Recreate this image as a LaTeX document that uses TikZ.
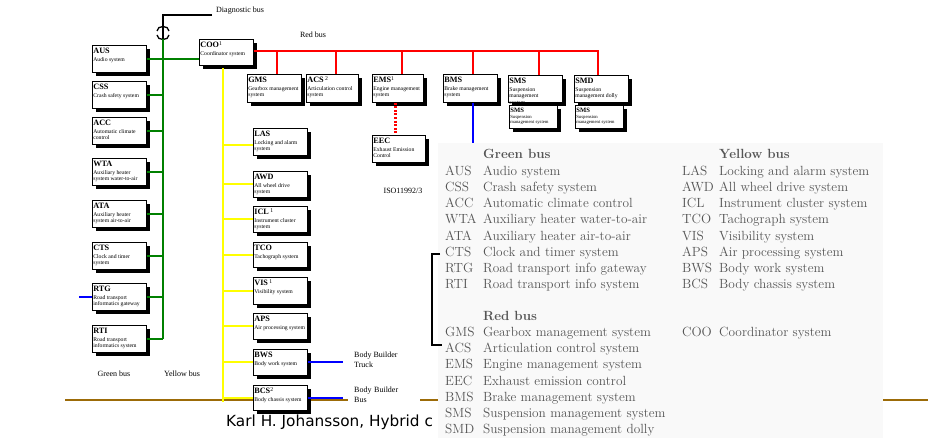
\documentclass[tikz,border=0pt]{standalone}
\usepackage{fontspec}
\newfontfamily\timesf{Liberation Serif}
\newfontfamily\footf{DejaVu Sans}
\usetikzlibrary{shadows}

\definecolor{busgreen}{RGB}{0,128,0}
\definecolor{busyellow}{RGB}{255,255,0}
\definecolor{busred}{RGB}{255,0,0}
\definecolor{busblue}{RGB}{0,0,255}
\definecolor{rulebrown}{RGB}{156,107,8}
\definecolor{legendgray}{RGB}{85,85,85}
\definecolor{panelbg}{RGB}{249,249,249}

% content of one control unit box: width, height, abbreviation, description
\newcommand\ecu[4]{\parbox[c][#2][t]{#1}{\raggedright\timesf
  \fontsize{8.2}{8.2}\selectfont\rule{0pt}{7.5pt}\textbf{#3}\par
  \vspace{0.8pt}\fontsize{5.7}{6.6}\selectfont #4}}
% smaller variant for the stacked suspension units
\newcommand\subecu[4]{\parbox[c][#2][t]{#1}{\raggedright\timesf
  \fontsize{6.6}{6.6}\selectfont\rule{0pt}{6pt}\textbf{#3}\par
  \vspace{0.4pt}\fontsize{4.7}{5.6}\selectfont #4}}
\newcommand\supr[1]{\textsuperscript{\mdseries #1}}

\tikzset{
  ecubox/.style={draw=black, line width=0.7pt, fill=white, inner sep=1pt,
    anchor=north west,
    general shadow={fill=black, shadow xshift=3.5pt, shadow yshift=-3.5pt}},
  greenbus/.style={draw=busgreen, line width=2pt},
  yellowbus/.style={draw=busyellow, line width=2pt},
  redbus/.style={draw=busred, line width=2pt},
  reddash/.style={draw=busred, line width=3pt, dash pattern=on 2pt off 1.6pt},
  bluebus/.style={draw=busblue, line width=1.8pt},
  diagline/.style={draw=black, line width=1.3pt},
  lbl/.style={font=\timesf\fontsize{8}{9.5}\selectfont, inner sep=0pt},
  legend/.style={font=\fontsize{13.3}{16}\selectfont, text=legendgray,
    inner sep=0pt, anchor=base west},
  legendhead/.style={legend, font=\fontsize{13.3}{16}\selectfont\bfseries},
}

\begin{document}
\begin{tikzpicture}[x=1pt,y=-1pt]
\useasboundingbox[fill=white] (0,0) rectangle (928,438);

% slide rule at the bottom
\coordinate (rulel) at (65,400);
\coordinate (ruler) at (928,400);
\draw[draw=rulebrown, line width=2.6pt] (rulel) -- (ruler);

% ---------------- control units ----------------
% green bus units
\node[ecubox] (aus) at (92,45)  {\ecu{52pt}{25pt}{AUS}{Audio system}};
\node[ecubox] (css) at (92,81)  {\ecu{52pt}{25pt}{CSS}{Crash safety system}};
\node[ecubox] (acc) at (92,117) {\ecu{52pt}{25pt}{ACC}{Automatic climate\\control}};
\node[ecubox] (wta) at (92,158) {\ecu{52pt}{25pt}{WTA}{Auxiliary heater\\system water-to-air}};
\node[ecubox] (ata) at (92,200) {\ecu{52pt}{25pt}{ATA}{Auxiliary heater\\system air-to-air}};
\node[ecubox] (cts) at (92,242) {\ecu{52pt}{25pt}{CTS}{Clock and timer\\system}};
\node[ecubox] (rtg) at (92,283) {\ecu{52pt}{25pt}{RTG}{Road transport\\informatics gateway}};
\node[ecubox] (rti) at (92,325) {\ecu{52pt}{25pt}{RTI}{Road transport\\informatics system}};

% coordinator
\node[ecubox] (coo) at (199,39) {\ecu{52pt}{24pt}{COO\supr{1}}{Coordinator system}};

% yellow bus units
\node[ecubox] (las) at (253,128) {\ecu{52pt}{25pt}{LAS}{Locking and alarm\\system}};
\node[ecubox] (awd) at (253,171) {\ecu{52pt}{24pt}{AWD}{All wheel drive\\system}};
\node[ecubox] (icl) at (253,206) {\ecu{52pt}{24pt}{ICL\,\supr{1}}{Instrument cluster\\system}};
\node[ecubox] (tco) at (253,242) {\ecu{52pt}{23pt}{TCO}{Tachograph system}};
\node[ecubox] (vis) at (253,277) {\ecu{52pt}{25pt}{VIS\,\supr{1}}{Visibility system}};
\node[ecubox] (aps) at (253,313) {\ecu{52pt}{24pt}{APS}{Air processing system}};
\node[ecubox] (bws) at (253,349) {\ecu{52pt}{24pt}{BWS}{Body work system}};
\node[ecubox] (bcs) at (253,385) {\ecu{52pt}{23pt}{BCS\supr{2}}{Body chassis system}};

% red bus units
\node[ecubox] (gms) at (247,74) {\ecu{52pt}{26pt}{GMS}{Gearbox management\\system}};
\node[ecubox] (acs) at (306,74) {\ecu{50pt}{26pt}{ACS\,\supr{2}}{Articulation control\\system}};
\node[ecubox] (ems) at (372,74) {\ecu{49pt}{26pt}{EMS\supr{1}}{Engine management\\system}};
\node[ecubox] (bms) at (443,74) {\ecu{52pt}{26pt}{BMS}{Brake management\\system}};
\node[ecubox] (sms) at (508,75) {\ecu{52pt}{25pt}{SMS}{Suspension\\management\\system}};
\node[ecubox] (smd) at (574,75) {\ecu{52pt}{25pt}{SMD}{Suspension\\management dolly}};
\node[ecubox] (smsa) at (509,105) {\subecu{46pt}{21pt}{SMS}{Suspension\\management system}};
\node[ecubox] (smsb) at (575,105) {\subecu{46pt}{21pt}{SMS}{Suspension\\management system}};
\node[ecubox] (eec) at (372,135) {\ecu{51pt}{25pt}{EEC}{Exhaust Emission\\Control}};

% ---------------- buses ----------------
% diagnostic bus and connector symbol
\coordinate (dgend) at (212,15);
\coordinate (hop) at (163,33);
\coordinate (gtop) at (163,39);
\draw[diagline] (dgend) -| (gtop);
\draw[diagline] ([shift={(-6,-2)}]hop) .. controls ([shift={(-6,-8)}]hop) and ([shift={(6,-8)}]hop) .. ([shift={(6,-2)}]hop);
\draw[diagline] ([shift={(-6,2)}]hop) .. controls ([shift={(-6,8)}]hop) and ([shift={(6,8)}]hop) .. ([shift={(6,2)}]hop);

% green bus
\draw[greenbus] (gtop) -- (gtop |- rti.east);
\draw[greenbus] (aus.east) -- (coo.west |- aus.east);
\foreach \u in {css,acc,wta,ata,cts,rtg,rti}
  \draw[greenbus] (\u.east) -- (\u.east -| gtop);

% yellow bus
\coordinate (ytop) at (223,68);
\coordinate (ybot) at (223,402);
\draw[yellowbus] (ytop) -- (ybot);
\draw[yellowbus] ([yshift=-3pt]las.west -| ytop) -- ([yshift=-3pt]las.west);
\foreach \u in {awd,icl,tco,vis,aps,bws,bcs}
  \draw[yellowbus] (\u.west -| ytop) -- (\u.west);

% red bus, ending in the drop to SMD
\coordinate (rend) at (598,51);
\draw[redbus] (coo.east |- rend) -- (rend) -- (rend |- smd.north);
\foreach \u/\x in {gms/277,acs/336,ems/402,bms/473,sms/539}
  \draw[redbus] (\x,51) -- (\x,51 |- \u.north);
\draw[reddash] ([xshift=-2pt]ems.south) -- ([xshift=-2pt]ems.south |- eec.north);

% blue links
\coordinate (bmsout) at (473,150);
\draw[bluebus] (bmsout |- bms.south) -- (bmsout);
\coordinate (rtgin) at (79,0);
\draw[bluebus] (rtgin |- rtg.west) -- (rtg.west);
\coordinate (bbout) at (343,0);
\draw[bluebus] (bws.east) -- (bws.east -| bbout);
\draw[bluebus] (bcs.east) -- (bcs.east -| bbout);

% ---------------- labels ----------------
\node[lbl, anchor=west] (ldiag) at (216,11) {Diagnostic bus};
\node[lbl] (lred) at (313,35) {Red bus};
\node[lbl] (liso) at (403,191) {ISO11992/3};
\node[lbl] (lgreen) at (114,374) {Green bus};
\node[lbl] (lyellow) at (182,374) {Yellow bus};
\node[lbl, anchor=north west, align=left, inner xsep=6pt, inner ysep=2pt,
  fill=white] (ltruck) at (348,350) {Body Builder\\Truck};
\node[lbl, anchor=north west, align=left, inner xsep=6pt, inner ysep=2pt,
  fill=white, text width=60pt] (lbus) at (348,385) {Body Builder\\Bus};

% footer
\node[anchor=base west, inner sep=0pt, font=\footf\fontsize{15.3}{18}\selectfont]
  (footer) at (226,426) {Karl H. Johansson, Hybrid c};

% ---------------- legend panel ----------------
\fill[panelbg] (438,143) rectangle (883,438);

\node[legendhead] (hgreen) at (483,158.5) {Green bus};
\node[legendhead] (hyellow) at (719,158.5) {Yellow bus};
\node[legendhead] (hred) at (483,320.5) {Red bus};

\foreach \ab/\txt [count=\i from 0] in {AUS/Audio system, CSS/Crash safety system,
    ACC/Automatic climate control, WTA/Auxiliary heater water-to-air,
    ATA/Auxiliary heater air-to-air, CTS/Clock and timer system,
    RTG/Road transport info gateway, RTI/Road transport info system} {
  \node[legend] (ga\i) at (445,175.5+16.15*\i) {\ab};
  \node[legend] (gd\i) at (483,175.5+16.15*\i) {\txt};
}
\foreach \ab/\txt [count=\i from 0] in {LAS/Locking and alarm system,
    AWD/All wheel drive system, ICL/Instrument cluster system,
    TCO/Tachograph system, VIS/Visibility system, APS/Air processing system,
    BWS/Body work system, BCS/Body chassis system} {
  \node[legend] (ya\i) at (682,175.5+16.15*\i) {\ab};
  \node[legend] (yd\i) at (719,175.5+16.15*\i) {\txt};
}
\foreach \ab/\txt [count=\i from 0] in {GMS/Gearbox management system,
    ACS/Articulation control system, EMS/Engine management system,
    EEC/Exhaust emission control, BMS/Brake management system,
    SMS/Suspension management system, SMD/Suspension management dolly} {
  \node[legend] (ra\i) at (445,336.5+16.17*\i) {\ab};
  \node[legend] (rd\i) at (483,336.5+16.17*\i) {\txt};
}
\node[legend] (cooa) at (682,336.5) {COO};
\node[legend] (cood) at (719,336.5) {Coordinator system};

% bracket at the panel edge
\coordinate (bk1) at (440,254);
\coordinate (bk2) at (432,345);
\coordinate (bk3) at (442,345);
\draw[line width=1.5pt] (bk1) -| (bk2) -- (bk3);
\end{tikzpicture}
\end{document}
